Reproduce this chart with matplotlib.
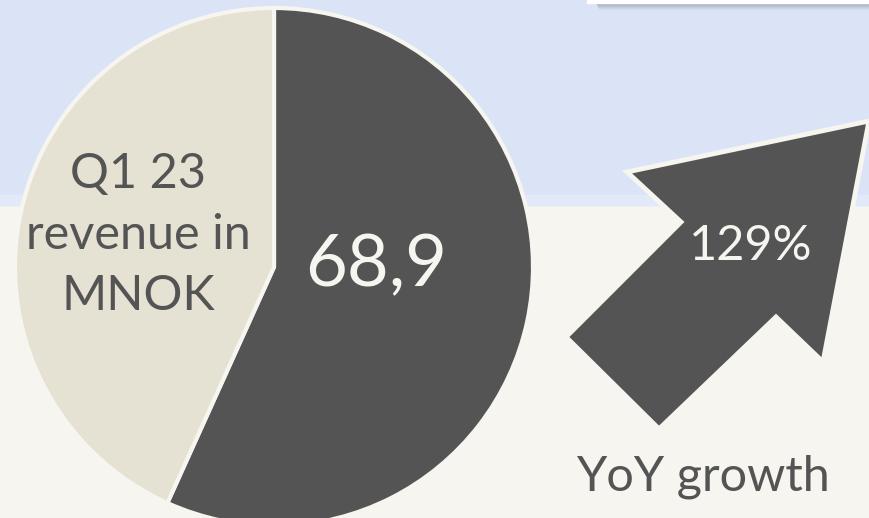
import matplotlib
matplotlib.use("Agg")
import matplotlib.pyplot as plt
from matplotlib.patches import Rectangle, Polygon
import numpy as np

# ---- data ----
slice_labels = ["Q1 23 revenue", "Remainder"]
slice_values = [68.9, 52.5]
slice_colors = ["#545454", "#e5e2d3"]
revenue_label = "68,9"
growth_label = "129%"
caption_left = "Q1 23\nrevenue in\nMNOK"
caption_right = "YoY growth"

W, H = 870, 518
plt.rcParams['font.family'] = ['Lato', 'DejaVu Sans']

fig = plt.figure(figsize=(W / 100, H / 100), dpi=100)
ax = fig.add_axes([0, 0, 1, 1])
ax.set_xlim(0, W)
ax.set_ylim(0, H)
ax.axis('off')

def py(y):
    return H - y

# background
ax.add_patch(Rectangle((0, 0), W, H, color="#f6f5f0", zorder=0))
ax.add_patch(Rectangle((0, py(205)), W, 205, color="#dbe4f6", zorder=0))
ax.add_patch(Rectangle((0, py(205)), W, 10, color="#e2e9f8", zorder=0))
# top-right box with shadow
for i, a in enumerate(np.linspace(0.55, 0.0, 9)):
    ax.add_patch(Rectangle((596 + i * 0.5, py(3 + i)), W, 1, color="#6e7180",
                           alpha=a, lw=0, zorder=1))
ax.add_patch(Rectangle((587, py(3)), W, 3, color="#ffffff", zorder=2))

# pie
ax.pie(slice_values, colors=slice_colors, startangle=90, counterclock=False,
       center=(274, py(267)), radius=259, frame=True,
       wedgeprops=dict(edgecolor="#f6f5f0", linewidth=3))
ax.set_xlim(0, W)
ax.set_ylim(0, H)
ax.set_aspect('auto')
ax.axis('off')

# arrow
arrow_px = [(869, 121), (627, 172), (681, 222), (566, 337), (659, 429),
            (776, 317), (823, 362)]
ax.add_patch(Polygon([(x, py(y)) for x, y in arrow_px], closed=True,
                     facecolor="#545454", edgecolor="#f6f5f0", lw=3.5,
                     joinstyle='miter', zorder=5))

# texts
ax.text(138, py(235), caption_left, ha='center', va='center', fontsize=35,
        color="#545454", linespacing=1.48, zorder=6)
ax.text(376, py(266), revenue_label, ha='center', va='center', fontsize=52,
        color="#f6f5f0", zorder=6)
ax.text(751, py(246), growth_label, ha='center', va='center', fontsize=35,
        color="#f6f5f0", zorder=6)
ax.text(703, py(477), caption_right, ha='center', va='center', fontsize=35,
        color="#545454", zorder=6)

fig.savefig("out.png", dpi=100)
